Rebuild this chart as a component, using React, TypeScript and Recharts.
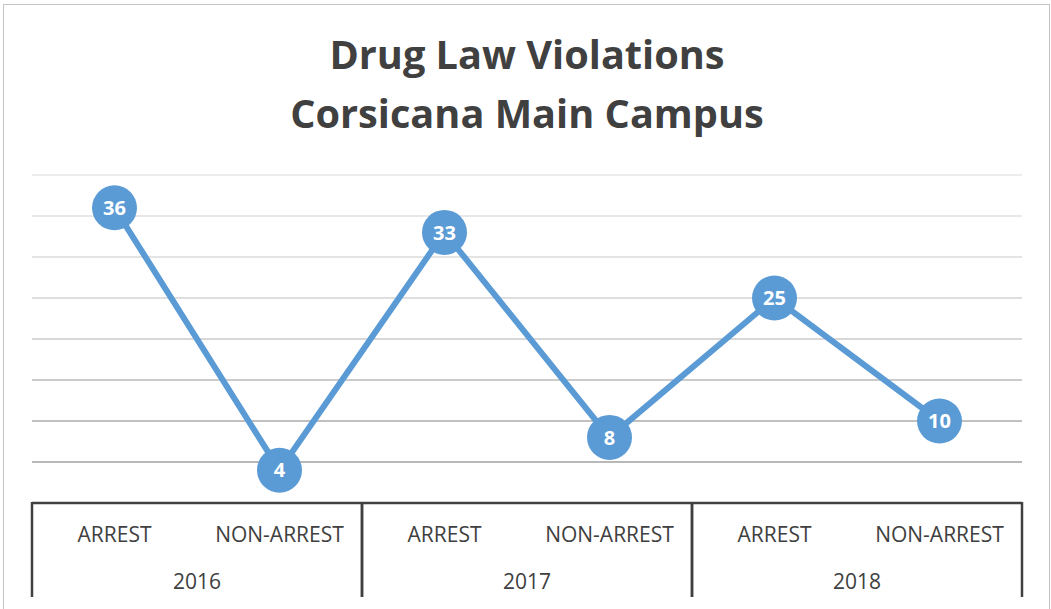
import React from 'react';
import { LineChart, Line, XAxis, YAxis, CartesianGrid, LabelList } from 'recharts';

const categories = ['ARREST', 'NON-ARREST', 'ARREST', 'NON-ARREST', 'ARREST', 'NON-ARREST'];
const years = ['2016', '2016', '2017', '2017', '2018', '2018'];
const violations = [36, 4, 33, 8, 25, 10];
const yTicks = [0, 5, 10, 15, 20, 25, 30, 35, 40];
const titleLines = ['Drug Law Violations', 'Corsicana Main Campus'];

const data = categories.map((c, i) => ({ key: `${years[i]} ${c}`, category: c, year: years[i], value: violations[i] }));

const W = 1051;
const H = 609;
const AXIS_H = 47;
const FONT = '"Open Sans", "DejaVu Sans", sans-serif';
const TEXT = '#404040';
const BLUE = '#5b9bd5';
const gridShade: Record<number, string> = {
  40: '#e6e6e6', 35: '#e0e0e0', 30: '#dbdbdb', 25: '#d3d3d3',
  20: '#cacaca', 15: '#bababa', 10: '#ababab', 5: '#a2a2a2', 0: '#a2a2a2',
};

const GridLine = (props: any) => {
  const { x1, x2, y1, y, height } = props;
  const frac = height ? (y1 - y) / height : 0;
  const v = Math.round((40 * (1 - frac)) / 5) * 5;
  return <line key={`g-${y1}`} x1={x1} x2={x2} y1={y1} y2={y1} stroke={gridShade[v] || '#d0d0d0'} strokeWidth={1.5} />;
};

const CategoryTick = (props: any) => {
  const { x, y, payload, index, width, visibleTicksCount } = props;
  const i = typeof index === 'number' ? index : payload.index;
  const n = visibleTicksCount || data.length;
  const band = width / n;
  const half = band / 2;
  const year = years[i];
  const first = i === 0 || years[i - 1] !== year;
  const last = i === n - 1 || years[i + 1] !== year;
  let groupEnd = i;
  while (groupEnd + 1 < n && years[groupEnd + 1] === year) groupEnd++;
  const yearX = x - half + ((groupEnd - i + 1) * band) / 2;
  return (
    <g>
      <text x={x} y={y + 39} textAnchor="middle" fill={TEXT} fontSize={21} fontFamily={FONT}>
        {categories[i]}
      </text>
      {first && (
        <>
          <line x1={x - half} x2={x - half} y1={y - 1} y2={y + 2 * AXIS_H} stroke={TEXT} strokeWidth={2.5} />
          <text x={yearX} y={y + AXIS_H + 39} textAnchor="middle" fill={TEXT} fontSize={21} fontFamily={FONT}>
            {year}
          </text>
        </>
      )}
      {last && <line x1={x + half} x2={x + half} y1={y - 1} y2={y + 2 * AXIS_H} stroke={TEXT} strokeWidth={2.5} />}
    </g>
  );
};

const Dot = (props: any) => {
  const { cx, cy, index } = props;
  return <circle key={`d-${index}`} cx={cx} cy={cy} r={22.5} fill={BLUE} />;
};

export default function App() {
  return (
    <div style={{ position: 'absolute', left: 0, top: 0, width: W, height: H, overflow: 'hidden', background: '#fff' }}>
      <div
        style={{
          position: 'absolute', left: 3, top: 4, width: 1045, height: 640,
          borderTop: '1.5px solid #c4c4c4', borderLeft: '1.5px solid #c4c4c4', borderRight: '1.5px solid #c4c4c4',
        }}
      />
      <div style={{ position: 'absolute', left: 0, top: 0 }}>
        <LineChart width={W} height={H} data={data} margin={{ top: 175, right: 29, left: 32, bottom: 12 }}>
          <CartesianGrid vertical={false} horizontal={GridLine} />
          <YAxis hide domain={[0, 40]} ticks={yTicks} type="number" />
          <XAxis
            dataKey="key"
            type="category"
            scale="band"
            height={2 * AXIS_H}
            tickSize={0}
            tickMargin={0}
            tickLine={false}
            axisLine={{ stroke: TEXT, strokeWidth: 2.5 }}
            tick={CategoryTick}
            interval={0}
          />
          <Line
            type="linear"
            dataKey="value"
            stroke={BLUE}
            strokeWidth={6}
            dot={Dot}
            activeDot={false}
            isAnimationActive={false}
          >
            <LabelList dataKey="value" position="center" fill="#ffffff" fontSize={20} fontWeight="bold" fontFamily={FONT} />
          </Line>
        </LineChart>
      </div>
      <svg width={W} height={H} style={{ position: 'absolute', left: 0, top: 0, pointerEvents: 'none' }}>
        {titleLines.map((t, i) => (
          <text key={t} x={527} y={69 + i * 59} textAnchor="middle" fill={TEXT} fontSize={39.7} fontWeight="bold" fontFamily={FONT}>
            {t}
          </text>
        ))}
      </svg>
    </div>
  );
}
